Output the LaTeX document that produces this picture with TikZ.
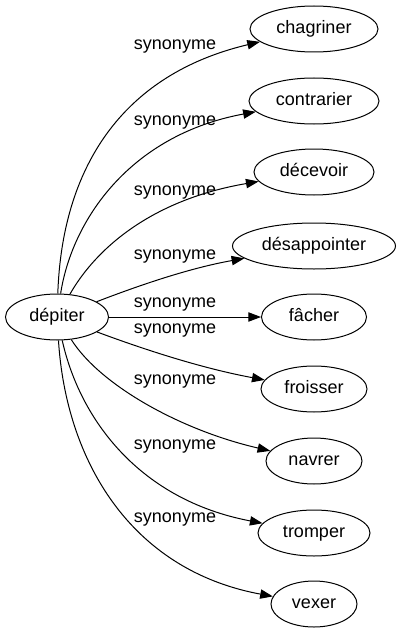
\documentclass[tikz,border=0pt]{standalone}
\usepackage{fontspec}
\setmainfont{Liberation Sans}
\usetikzlibrary{shapes.geometric,arrows.meta}

\tikzset{
  word/.style={draw, ellipse, line width=0.75pt, minimum height=34.5pt, inner sep=0pt,
    font=\fontsize{13.5}{16}\selectfont, text height=10pt, text depth=3pt},
  syn/.style={line width=0.75pt, -{Triangle[length=9.5pt,width=7pt]}},
  lab/.style={inner sep=0.75pt, font=\fontsize{13.5}{16}\selectfont}
}

\begin{document}
\begin{tikzpicture}[x=0.75pt,y=0.75pt,yscale=-1,xscale=1]
\useasboundingbox (0,0) rectangle (401,635);

% central word
\node [word, minimum width=77.25pt] (dep) at (57,317) {dépiter};

% synonyms
\node [word, minimum width=96pt] (chag) at (314,29) {chagriner};
\node [word, minimum width=97.5pt] (cont) at (314,101) {contrarier};
\node [word, minimum width=90pt] (dece) at (314,172) {décevoir};
\node [word, minimum width=122.25pt] (desa) at (314,246) {désappointer};
\node [word, minimum width=78.75pt] (fach) at (314,317) {fâcher};
\node [word, minimum width=79.5pt] (froi) at (314,389) {froisser};
\node [word, minimum width=72pt] (navr) at (314,461) {navrer};
\node [word, minimum width=84pt] (tromp) at (314,533) {tromper};
\node [word, minimum width=64.5pt] (vex) at (314,604) {vexer};

% edges
\draw [syn] (dep) .. controls (62,170) and (120,75) .. (chag);
\draw [syn] (dep) .. controls (72,220) and (130,135) .. (cont);
\draw [syn] (dep) .. controls (95,250) and (150,200) .. (dece);
\draw [syn] (dep) .. controls (140,285) and (190,268) .. (desa);
\draw [syn] (dep) -- (fach);
\draw [syn] (dep) .. controls (140,348) and (200,368) .. (froi);
\draw [syn] (dep) .. controls (100,385) and (180,430) .. (navr);
\draw [syn] (dep) .. controls (80,420) and (140,500) .. (tromp);
\draw [syn] (dep) .. controls (66,460) and (130,570) .. (vex);

% edge labels
\node [lab] (l1) at (175,47) {synonyme};
\node [lab] (l2) at (175,123) {synonyme};
\node [lab] (l3) at (175,193) {synonyme};
\node [lab] (l4) at (175,257) {synonyme};
\node [lab] (l5) at (175,305) {synonyme};
\node [lab] (l6) at (175,331) {synonyme};
\node [lab] (l7) at (175,382) {synonyme};
\node [lab] (l8) at (175,447) {synonyme};
\node [lab] (l9) at (175,520) {synonyme};

\end{tikzpicture}
\end{document}
